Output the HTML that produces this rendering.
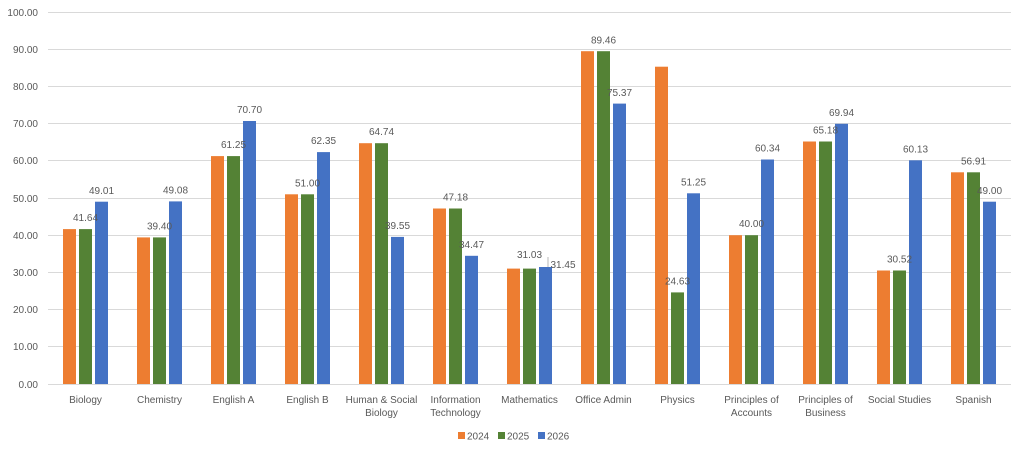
<!DOCTYPE html>
<html>
<head>
<meta charset="utf-8">
<style>
html,body{margin:0;padding:0;background:#fff;}
svg{display:block;font-family:"Liberation Sans",Arial,sans-serif;}
text{fill:#595959;font-size:10px;}
</style>
</head>
<body>
<svg width="1023" height="453" viewBox="0 0 1023 453" xmlns="http://www.w3.org/2000/svg">
<rect width="1023" height="453" fill="#fff"/>
<!-- gridlines -->
<g stroke="#D9D9D9" stroke-width="1">
<line x1="48" y1="12.5" x2="1011" y2="12.5"/>
<line x1="48" y1="49.5" x2="1011" y2="49.5"/>
<line x1="48" y1="86.5" x2="1011" y2="86.5"/>
<line x1="48" y1="123.5" x2="1011" y2="123.5"/>
<line x1="48" y1="160.5" x2="1011" y2="160.5"/>
<line x1="48" y1="198.5" x2="1011" y2="198.5"/>
<line x1="48" y1="235.5" x2="1011" y2="235.5"/>
<line x1="48" y1="272.5" x2="1011" y2="272.5"/>
<line x1="48" y1="309.5" x2="1011" y2="309.5"/>
<line x1="48" y1="346.5" x2="1011" y2="346.5"/>
<line x1="48" y1="384.5" x2="1011" y2="384.5"/>
</g>
<!-- y labels -->
<g text-anchor="end">
<text x="38" y="16">100.00</text>
<text x="38" y="53">90.00</text>
<text x="38" y="90">80.00</text>
<text x="38" y="127">70.00</text>
<text x="38" y="164">60.00</text>
<text x="38" y="202">50.00</text>
<text x="38" y="239">40.00</text>
<text x="38" y="276">30.00</text>
<text x="38" y="313">20.00</text>
<text x="38" y="350">10.00</text>
<text x="38" y="388">0.00</text>
</g>
<!-- bars 2024 -->
<g fill="#ED7D31">
<rect x="63" y="229.1" width="13" height="154.9"/>
<rect x="137" y="237.4" width="13" height="146.6"/>
<rect x="211" y="156.1" width="13" height="227.9"/>
<rect x="285" y="194.3" width="13" height="189.7"/>
<rect x="359" y="143.2" width="13" height="240.8"/>
<rect x="433" y="208.5" width="13" height="175.5"/>
<rect x="507" y="268.6" width="13" height="115.4"/>
<rect x="581" y="51.2" width="13" height="332.8"/>
<rect x="655" y="66.7" width="13" height="317.3"/>
<rect x="729" y="235.2" width="13" height="148.8"/>
<rect x="803" y="141.5" width="13" height="242.5"/>
<rect x="877" y="270.5" width="13" height="113.5"/>
<rect x="951" y="172.3" width="13" height="211.7"/>
</g>
<!-- bars 2025 -->
<g fill="#548235">
<rect x="79" y="229.1" width="13" height="154.9"/>
<rect x="153" y="237.4" width="13" height="146.6"/>
<rect x="227" y="156.1" width="13" height="227.9"/>
<rect x="301" y="194.3" width="13" height="189.7"/>
<rect x="375" y="143.2" width="13" height="240.8"/>
<rect x="449" y="208.5" width="13" height="175.5"/>
<rect x="523" y="268.6" width="13" height="115.4"/>
<rect x="597" y="51.2" width="13" height="332.8"/>
<rect x="671" y="292.4" width="13" height="91.6"/>
<rect x="745" y="235.2" width="13" height="148.8"/>
<rect x="819" y="141.5" width="13" height="242.5"/>
<rect x="893" y="270.5" width="13" height="113.5"/>
<rect x="967" y="172.3" width="13" height="211.7"/>
</g>
<!-- bars 2026 -->
<g fill="#4472C4">
<rect x="95" y="201.7" width="13" height="182.3"/>
<rect x="169" y="201.4" width="13" height="182.6"/>
<rect x="243" y="121.0" width="13" height="263.0"/>
<rect x="317" y="152.1" width="13" height="231.9"/>
<rect x="391" y="236.9" width="13" height="147.1"/>
<rect x="465" y="255.8" width="13" height="128.2"/>
<rect x="539" y="267.0" width="13" height="117.0"/>
<rect x="613" y="103.6" width="13" height="280.4"/>
<rect x="687" y="193.3" width="13" height="190.7"/>
<rect x="761" y="159.5" width="13" height="224.5"/>
<rect x="835" y="123.8" width="13" height="260.2"/>
<rect x="909" y="160.3" width="13" height="223.7"/>
<rect x="983" y="201.7" width="13" height="182.3"/>
</g>
<!-- data labels 2025 -->
<g text-anchor="middle">
<text x="85.5" y="221">41.64</text>
<text x="159.5" y="229.5">39.40</text>
<text x="233.5" y="148">61.25</text>
<text x="307.5" y="186.5">51.00</text>
<text x="381.5" y="135">64.74</text>
<text x="455.5" y="200.5">47.18</text>
<text x="529.5" y="258">31.03</text>
<text x="603.5" y="43.5">89.46</text>
<text x="677.5" y="284.5">24.63</text>
<text x="751.5" y="227">40.00</text>
<text x="825.5" y="133.5">65.18</text>
<text x="899.5" y="262.5">30.52</text>
<text x="973.5" y="164.5">56.91</text>
</g>
<!-- data labels 2026 -->
<g text-anchor="middle">
<text x="101.5" y="194">49.01</text>
<text x="175.5" y="193.5">49.08</text>
<text x="249.5" y="113">70.70</text>
<text x="323.5" y="144">62.35</text>
<text x="397.5" y="229">39.55</text>
<text x="471.5" y="248">34.47</text>
<text x="563" y="268">31.45</text>
<text x="619.5" y="96">75.37</text>
<text x="693.5" y="185.5">51.25</text>
<text x="767.5" y="151.5">60.34</text>
<text x="841.5" y="116">69.94</text>
<text x="915.5" y="152.5">60.13</text>
<text x="989.5" y="194">49.00</text>
</g>
<line x1="548" y1="257" x2="548" y2="267" stroke="#A6A6A6" stroke-width="0.8"/>
<!-- category labels -->
<g text-anchor="middle">
<text x="85.5" y="403">Biology</text>
<text x="159.5" y="403">Chemistry</text>
<text x="233.5" y="403">English A</text>
<text x="307.5" y="403">English B</text>
<text x="381.5" y="403">Human &amp; Social</text>
<text x="381.5" y="416">Biology</text>
<text x="455.5" y="403">Information</text>
<text x="455.5" y="416">Technology</text>
<text x="529.5" y="403">Mathematics</text>
<text x="603.5" y="403">Office Admin</text>
<text x="677.5" y="403">Physics</text>
<text x="751.5" y="403">Principles of</text>
<text x="751.5" y="416">Accounts</text>
<text x="825.5" y="403">Principles of</text>
<text x="825.5" y="416">Business</text>
<text x="899.5" y="403">Social Studies</text>
<text x="973.5" y="403">Spanish</text>
</g>
<!-- legend -->
<rect x="458" y="432" width="7" height="7" fill="#ED7D31"/>
<text x="467" y="439.5">2024</text>
<rect x="498" y="432" width="7" height="7" fill="#548235"/>
<text x="507" y="439.5">2025</text>
<rect x="538" y="432" width="7" height="7" fill="#4472C4"/>
<text x="547" y="439.5">2026</text>
</svg>
</body>
</html>
